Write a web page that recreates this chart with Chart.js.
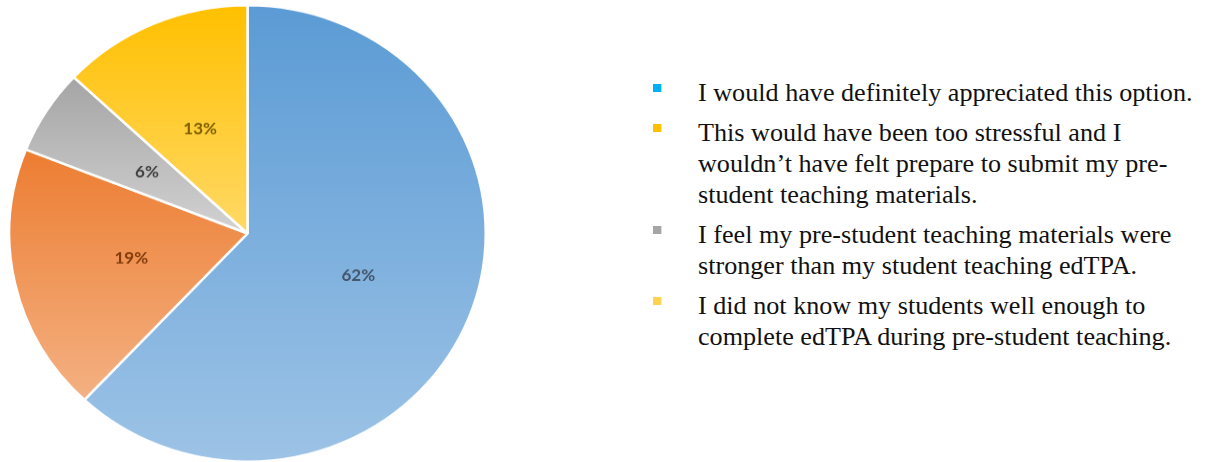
<!DOCTYPE html>
<html>
<head>
<meta charset="utf-8">
<script src="https://cdn.jsdelivr.net/npm/chart.js@4/dist/chart.umd.min.js"></script>
<style>
  html, body { margin: 0; padding: 0; background: #fff; }
  body { width: 1207px; height: 462px; position: relative; overflow: hidden; }
  #pieWrap {
    position: absolute; left: 8px; top: 4px; width: 479px; height: 479px;
    transform: scaleY(0.958); transform-origin: top left;
  }
  #legend {
    position: absolute; left: 653px; top: 77px; margin: 0; padding: 0; list-style: none;
    font-family: "Liberation Serif", "Times New Roman", serif; font-size: 25px;
    line-height: 31px; color: #111;
    transform: scaleX(1.046); transform-origin: top left;
  }
  #legend li { position: relative; padding-left: 43px; margin-bottom: 9px; white-space: nowrap; }
  #legend li span.box { position: absolute; left: 0; top: 7px; width: 8px; height: 8px; }
</style>
</head>
<body>
<div id="pieWrap"><canvas id="pieChart" width="479" height="479"></canvas></div>
<ul id="legend"></ul>
<script>
// answers, as they are written in the legend (one entry per line of text)
const answers = [
    ['I would have definitely appreciated this option.'],
    ['This would have been too stressful and I',
     'wouldn\u2019t have felt prepare to submit my pre-',
     'student teaching materials.'],
    ['I feel my pre-student teaching materials were',
     'stronger than my student teaching edTPA.'],
    ['I did not know my students well enough to',
     'complete edTPA during pre-student teaching.']
];
const percents = [62, 19, 6, 13];

const markerColors = ['#00B0F0', '#FFC000', '#A5A5A5', '#FFD34F'];
const sliceTop = ['#5B9BD5', '#ED7D31', '#A5A5A5', '#FFC000'];
const sliceBottom = ['#9DC3E6', '#F4B183', '#D2D2D2', '#FFD966'];
const labelColors = ['#44546A', '#843C0C', '#404040', '#7F6000'];

// legend on the right
const legend = document.getElementById('legend');
answers.forEach(function (lines, i) {
    const li = document.createElement('li');
    const box = document.createElement('span');
    box.className = 'box';
    box.style.background = markerColors[i];
    li.appendChild(box);
    lines.forEach(function (line, j) {
        if (j > 0) li.appendChild(document.createElement('br'));
        li.appendChild(document.createTextNode(line));
    });
    legend.appendChild(li);
});

// each slice gets its own top-to-bottom gradient, like the office chart
const sliceGradients = {
    id: 'sliceGradients',
    beforeDatasetsDraw(chart) {
        const ctx = chart.ctx;
        chart.getDatasetMeta(0).data.forEach(function (arc, i) {
            const p = arc.getProps(['x', 'y', 'startAngle', 'endAngle', 'outerRadius'], true);
            let top = p.y, bottom = p.y;
            const pts = [p.startAngle, p.endAngle];
            [-Math.PI / 2, Math.PI / 2, 3 * Math.PI / 2].forEach(function (a) {
                if (a > p.startAngle && a < p.endAngle) pts.push(a);
            });
            pts.forEach(function (a) {
                const y = p.y + p.outerRadius * Math.sin(a);
                top = Math.min(top, y);
                bottom = Math.max(bottom, y);
            });
            const g = ctx.createLinearGradient(0, top, 0, bottom);
            g.addColorStop(0, sliceTop[i]);
            g.addColorStop(1, sliceBottom[i]);
            arc.options.backgroundColor = g;
        });
    }
};

// percent labels in the middle of each slice
const sliceLabels = {
    id: 'sliceLabels',
    afterDatasetsDraw(chart) {
        const ctx = chart.ctx;
        ctx.save();
        ctx.font = 'bold 17px Lato, "Open Sans", sans-serif';
        ctx.textAlign = 'center';
        ctx.textBaseline = 'middle';
        chart.getDatasetMeta(0).data.forEach(function (arc, i) {
            const pos = arc.tooltipPosition(true);
            ctx.fillStyle = labelColors[i];
            ctx.fillText(percents[i] + '%', pos.x, pos.y);
        });
        ctx.restore();
    }
};

new Chart(document.getElementById('pieChart'), {
    type: 'pie',
    data: {
        labels: answers.map(function (l) { return l.join(' '); }),
        datasets: [{
            data: percents,
            backgroundColor: sliceTop,
            borderColor: '#ffffff',
            borderWidth: 2.5
        }]
    },
    options: {
        responsive: false,
        animation: false,
        layout: { padding: 0 },
        plugins: {
            legend: { display: false },
            tooltip: { enabled: false }
        }
    },
    plugins: [sliceGradients, sliceLabels]
});
</script>
</body>
</html>
